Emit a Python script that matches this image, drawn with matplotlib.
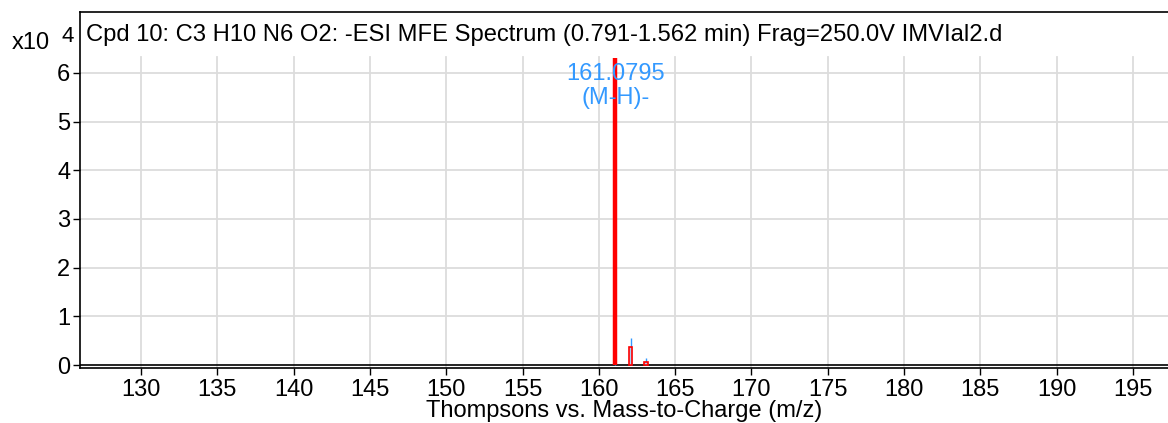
import matplotlib
matplotlib.use("Agg")
import matplotlib.pyplot as plt

plt.rcParams["font.family"] = ["Liberation Sans", "DejaVu Sans"]

# spectrum data (intensity in units of 1e4 counts)
mz_measured = [161.0795, 162.08, 163.075]
int_measured = [6.30, 0.56, 0.14]
mz_predicted = [161.0795, 162.08, 163.075]
int_predicted = [6.30, 0.37, 0.055]
peak_label = "161.0795\n(M-H)-"
title = "Cpd 10: C3 H10 N6 O2: -ESI MFE Spectrum (0.791-1.562 min) Frag=250.0V IMVIal2.d"
xticks = list(range(130, 200, 5))
yticks = [0, 1, 2, 3, 4, 5, 6]

fig = plt.figure(figsize=(11.68, 4.23), dpi=100)
ax = fig.add_axes([80 / 1168, 1 - 368 / 423, 1 - 80 / 1168, (368 - 12) / 423])
ax.set_xlim(126.0, 197.3)
ax.set_ylim(-0.06, 7.25)
grid_top = 6.33

# grid
for t in xticks:
    ax.plot([t, t], [-0.06, grid_top], color="#dcdcdc", lw=1.3, zorder=0)
for t in yticks[1:]:
    ax.axhline(t, color="#dcdcdc", lw=1.3, zorder=0)

# baseline
ax.axhline(0, color="black", lw=1.2, zorder=1)

# measured spectrum (blue sticks)
ax.vlines(mz_measured, 0, int_measured, color="#3399ff", lw=1.0, zorder=2)

# predicted isotope boxes
ax.vlines(mz_predicted[0], 0, int_predicted[0], color="#ff0000", lw=3.2, zorder=3)
ax.bar(mz_predicted[1:], int_predicted[1:], width=0.25, facecolor="#a9d0f5",
       edgecolor="#ff0000", lw=1.2, zorder=3)

ax.text(mz_measured[0], 5.73, peak_label, color="#3399ff", fontsize=17,
        ha="center", va="center", linespacing=1.15, zorder=4)

ax.text(6 / 1088, 0.935, title, transform=ax.transAxes, fontsize=17.1,
        ha="left", va="center")

ax.set_xticks(xticks)
ax.set_yticks(yticks)
ax.tick_params(labelsize=17, length=5, width=1, colors="black")
ax.tick_params(axis="x", pad=3)
ax.tick_params(axis="y", pad=2)
ax.spines["right"].set_visible(False)
for s in ["left", "top", "bottom"]:
    ax.spines[s].set_linewidth(1.2)

ax.set_xlabel("Thompsons vs. Mass-to-Charge (m/z)", fontsize=17, labelpad=-1)

fig.text(12 / 1168, 1 - 43 / 423, "x10", fontsize=17, ha="left", va="center")
fig.text(61 / 1168, 1 - 37 / 423, "4", fontsize=16, ha="left", va="center")

fig.savefig("out.png", dpi=100, facecolor="white")
